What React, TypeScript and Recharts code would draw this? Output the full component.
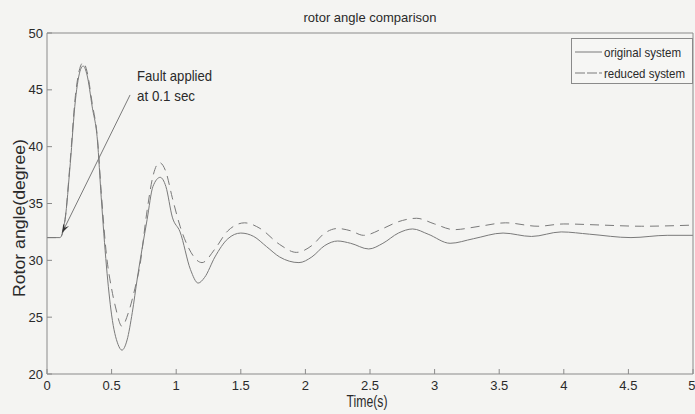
import React from 'react';
import { LineChart, Line, XAxis, YAxis, ReferenceLine } from 'recharts';

const originalTime = [0, 0.1, 0.14, 0.18, 0.22, 0.26, 0.28, 0.31, 0.35, 0.39, 0.42, 0.46, 0.5, 0.55, 0.58, 0.62, 0.66, 0.7, 0.775, 0.82, 0.876, 0.92, 0.97, 1.03, 1.11, 1.17, 1.22, 1.3, 1.4, 1.5, 1.6, 1.7, 1.8, 1.95, 2.05, 2.15, 2.25, 2.35, 2.49, 2.6, 2.72, 2.83, 2.95, 3.12, 3.3, 3.53, 3.75, 3.98, 4.2, 4.52, 4.8, 5];
const originalAngle = [32, 32, 33.6, 38.5, 44.1, 46.8, 47.1, 46.3, 43.5, 40.6, 35.5, 29.5, 25.2, 22.6, 22.1, 23.0, 25.4, 28.5, 33.6, 36.5, 37.3, 36.5, 33.8, 32.5, 29.2, 28.0, 28.5, 30.3, 31.9, 32.4, 32.1, 31.2, 30.3, 29.8, 30.3, 31.3, 31.7, 31.5, 31.0, 31.5, 32.4, 32.76, 32.3, 31.5, 31.9, 32.4, 32.1, 32.5, 32.3, 32.0, 32.2, 32.2];

const reducedTime = [0, 0.1, 0.14, 0.18, 0.22, 0.26, 0.28, 0.31, 0.35, 0.39, 0.42, 0.46, 0.5, 0.53, 0.58, 0.63, 0.68, 0.72, 0.77, 0.82, 0.87, 0.92, 0.97, 1.03, 1.1, 1.2, 1.3, 1.4, 1.53, 1.65, 1.8, 1.93, 2.05, 2.15, 2.25, 2.35, 2.45, 2.6, 2.72, 2.86, 3.0, 3.15, 3.35, 3.55, 3.8, 4.0, 4.3, 4.6, 5];
const reducedAngle = [32, 32, 33.6, 38.8, 44.5, 47.1, 47.4, 46.6, 43.8, 40.8, 36.0, 30.5, 27.5, 25.9, 24.2, 25.4, 27.5, 29.6, 34.0, 37.4, 38.6, 37.8, 35.5, 33.0, 31.0, 29.8, 31.0, 32.6, 33.3, 32.8, 31.4, 30.7, 31.3, 32.4, 32.8, 32.6, 32.2, 32.8, 33.4, 33.7, 33.2, 32.7, 33.0, 33.3, 33.0, 33.2, 33.1, 33.0, 33.1];

const xTicks = [0, 0.5, 1, 1.5, 2, 2.5, 3, 3.5, 4, 4.5, 5];
const yTicks = [20, 25, 30, 35, 40, 45, 50];
const seriesNames = ['original system', 'reduced system'];

const originalData = originalTime.map((t, i) => ({ t, v: originalAngle[i] }));
const reducedData = reducedTime.map((t, i) => ({ t, v: reducedAngle[i] }));

const LINE = '#7a7a7a';
const AXIS = '#8a8a8a';
const TEXT = '#2a2a2a';
const FONT = '"Liberation Sans", Arial, sans-serif';

const ArrowShape = (props: any) => {
  const { x1, y1, x2, y2 } = props;
  if ([x1, y1, x2, y2].some((v) => typeof v !== 'number' || isNaN(v))) return null;
  const ang = Math.atan2(y2 - y1, x2 - x1);
  const L = 10;
  const w = 0.32;
  const p1x = x2 - L * Math.cos(ang - w);
  const p1y = y2 - L * Math.sin(ang - w);
  const p2x = x2 - L * Math.cos(ang + w);
  const p2y = y2 - L * Math.sin(ang + w);
  const mx = x2 - 6 * Math.cos(ang);
  const my = y2 - 6 * Math.sin(ang);
  return (
    <g>
      <line x1={x1} y1={y1} x2={x2} y2={y2} stroke={LINE} strokeWidth={1} />
      <path d={`M${x2},${y2} L${p1x},${p1y} L${mx},${my} L${p2x},${p2y} Z`} fill="#333" />
      <text x={x1 + 7} y={y1 - 14} fontSize={15} fill={TEXT} fontFamily={FONT} textLength={75} lengthAdjust="spacingAndGlyphs">Fault applied</text>
      <text x={x1 + 7} y={y1 + 6} fontSize={15} fill={TEXT} fontFamily={FONT} textLength={58} lengthAdjust="spacingAndGlyphs">at 0.1 sec</text>
    </g>
  );
};

export default function App() {
  return (
    <div style={{ position: 'absolute', left: 0, top: 0, width: 695, height: 414, background: '#f4f4f2' }}>
      <LineChart width={695} height={414} margin={{ top: 32, right: 1, bottom: 0, left: 0 }}>
        <XAxis
          xAxisId="b"
          type="number"
          dataKey="t"
          domain={[0, 5]}
          ticks={xTicks}
          allowDataOverflow
          height={40}
          tickSize={-5}
          tickMargin={12}
          stroke={AXIS}
          tick={{ fill: TEXT, fontSize: 13, fontFamily: FONT }}
        />
        <XAxis
          xAxisId="top"
          orientation="top"
          type="number"
          dataKey="t"
          domain={[0, 5]}
          ticks={xTicks}
          allowDataOverflow
          height={1}
          tickSize={-5}
          stroke={AXIS}
          tick={false}
        />
        <YAxis
          yAxisId="l"
          type="number"
          domain={[20, 50]}
          ticks={yTicks}
          allowDataOverflow
          width={47}
          tickSize={-5}
          tickMargin={9}
          stroke={AXIS}
          tick={{ fill: TEXT, fontSize: 13, fontFamily: FONT }}
        />
        <YAxis
          yAxisId="r"
          orientation="right"
          type="number"
          domain={[20, 50]}
          ticks={yTicks}
          allowDataOverflow
          width={1}
          tickSize={-5}
          stroke={AXIS}
          tick={false}
        />
        <text x={370} y={22} textAnchor="middle" fontSize={13} fill={TEXT} fontFamily={FONT}>rotor angle comparison</text>
        <text x={367} y={407} textAnchor="middle" fontSize={16} fill={TEXT} fontFamily={FONT} textLength={41} lengthAdjust="spacingAndGlyphs">Time(s)</text>
        <text
          x={25}
          y={218}
          textAnchor="middle"
          fontSize={16}
          fill={TEXT}
          fontFamily={FONT}
          transform="rotate(-90 25 218)"
          textLength={158}
          lengthAdjust="spacingAndGlyphs"
        >
          Rotor angle(degree)
        </text>
        <Line
          xAxisId="b"
          yAxisId="l"
          data={originalData}
          dataKey="v"
          type="monotone"
          stroke={LINE}
          strokeWidth={1}
          dot={false}
          isAnimationActive={false}
          name={seriesNames[0]}
        />
        <Line
          xAxisId="b"
          yAxisId="l"
          data={reducedData}
          dataKey="v"
          type="monotone"
          stroke={LINE}
          strokeWidth={1}
          strokeDasharray="9 6"
          dot={false}
          isAnimationActive={false}
          name={seriesNames[1]}
        />
        <ReferenceLine
          xAxisId="b"
          yAxisId="l"
          segment={[{ x: 0.643, y: 44.55 }, { x: 0.116, y: 32.4 }]}
          shape={ArrowShape}
          ifOverflow="visible"
        />
        <g>
          <rect x={571.5} y={38.5} width={121} height={45} fill="#f6f6f4" stroke={AXIS} strokeWidth={1} />
          {seriesNames.map((n, i) => (
            <g key={n}>
              <line x1={575} y1={52 + i * 21} x2={602} y2={52 + i * 21} stroke={LINE} strokeWidth={1} strokeDasharray={i === 1 ? '10 2' : undefined} />
              <text x={604} y={57 + i * 21} fontSize={13} fill={TEXT} fontFamily={FONT} textLength={i === 0 ? 77 : 81} lengthAdjust="spacingAndGlyphs">{n}</text>
            </g>
          ))}
        </g>
      </LineChart>
    </div>
  );
}
